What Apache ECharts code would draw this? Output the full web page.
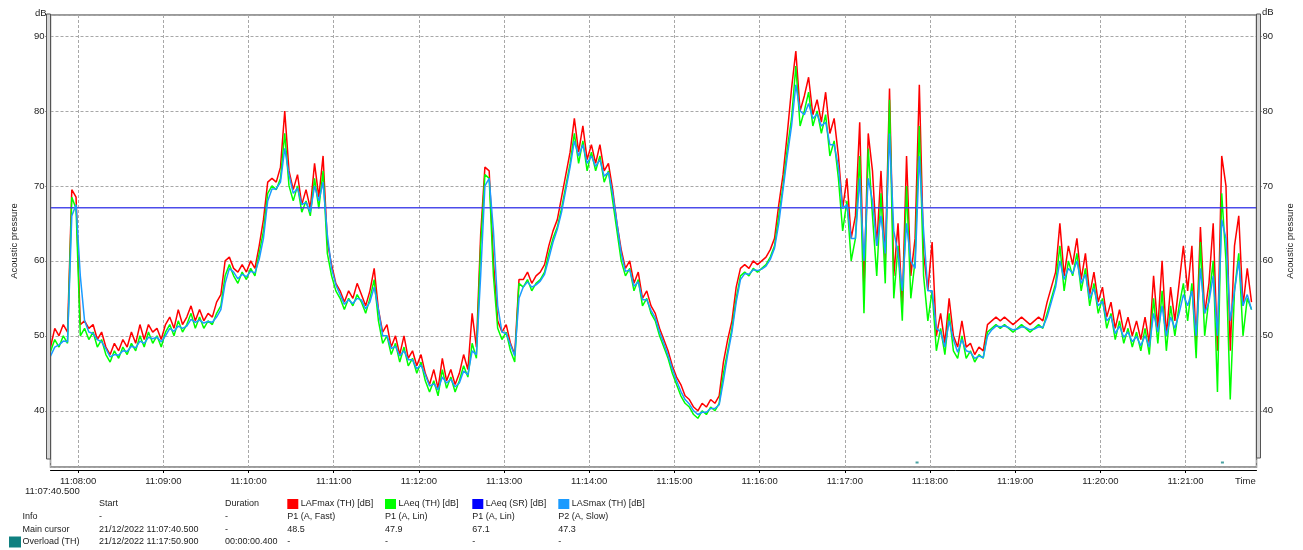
<!DOCTYPE html>
<html><head><meta charset="utf-8">
<script src="https://cdn.jsdelivr.net/npm/echarts@6/dist/echarts.min.js"></script>
<style>html,body{margin:0;padding:0;background:#fff}#c{width:1303px;height:550px}</style>
</head><body><div id="c"></div>
<script>
// ---- time base ----
const startTime = Date.UTC(2022, 11, 21, 11, 7, 40, 500);
const endTime = Date.UTC(2022, 11, 21, 11, 21, 50, 0);
const stepSeconds = 3;

// ---- series values (dB), one value every 3 s from 11:07:40.500 ----
const lafmax = [48.5,51,50,51.5,50.5,69.5,68.5,51.5,52,51,51.5,49.5,50.5,48.5,47.5,49,48,49.5,48.5,50.5,
49,51.5,49.5,51.5,50.5,51,49.5,51.5,52.5,51,53.5,51.5,52.5,54,52,53.5,52,53,52.5,54.5,
55.5,60,60.5,59,58.5,59.5,58.5,60,59,62,65.5,70.5,71,70.5,72.5,80,72,69.5,71.5,67.5,
69.5,67,73,68.5,74,62.5,59.5,57,56,54.5,56,55,57,55.5,54,56,59,53.5,50.5,51.5,
48.5,50,47.5,50,47,48,46,47.5,45,43.5,45.5,43,47,44,45.5,43.5,45,47.5,45.5,53,
48.5,63.5,72.5,72,60,52,50.5,51.5,49,47.5,57.5,57.5,58.5,57,58,58.5,59.5,62,64,65.5,
68.5,71.5,74.5,79,74.5,78,73.5,75.5,73,75.5,72,73,69.5,65,61.5,59,60,57,58.5,55,
56,54,53,51,49.5,48,46,44.5,43.5,42,41.5,40.5,40,41,40.5,41.5,41,42,46.5,49.5,
52,56.5,59,59.5,59,60,59.5,60,60.5,61.5,63,67.5,71.5,77,83,88,80,82,84.5,79.5,
81.5,78.5,82.5,77,79,74,67,71,63,66,78.5,56,77,72,62,72,60,83,58,65,
54,74,58,63,83.5,61,56,62.5,50,53,49,55,50,48.5,52,48.5,49,47.5,48.5,48,
51.5,52,52.5,52,52.5,52,51.5,52,52.5,52,51.5,52,52.5,52,54.5,56.5,58.5,65,58,62,
59.5,63,57.5,61,55.5,58.5,54.5,56.5,52.5,54.5,51,53.5,50.5,52.5,50,52,49.5,52.5,49,58,
51,60,50,56.5,52,57,62,56,62,49,64.5,53,57,65,48,74,70,48,62,66,
54,59,54.5];
const laeq = [47.9,49.5,48.5,50,49,68.5,67,50,51,49.5,50.5,48.5,49.5,47.5,46.5,48,47,48.5,47.5,49,
48,50,48.5,50.5,49,50,48.5,50.5,51.5,50,52,50.5,51.5,53,51,52.5,51,52,51.5,53,
54,58,59.5,58,57,58.5,57.5,59,58,61,64,69,70,69.5,71,77,70,68,70,66.5,
68,66,71,67,72,61,58,56,55,53.5,55,54,55.5,54.5,53,55,57.5,52,49,50,
47.5,49,46.5,48.5,46,47,45,46.5,44,42.5,44,42,45.5,43,44.5,42.5,44,46,44.5,49,
47,62,71.5,71,58,51,49.5,50.5,48,46.5,57,56.5,57.5,56,57,57.5,58.5,61,63,64.5,
67,70,73,77,73,76,72,74.5,72,74,70.5,72,68,64,60,58,59,56,57.5,54,
55,53,52,50,48.5,47,45,43.5,42,41,40.5,39.5,39,40,39.5,40.5,40,41,45,48,
51,55,58,58.5,58,59,58.5,59,59.5,60.5,62,66,70,75,79,86,78,80,82.5,78,
80,77,79.5,74,76,71,64,68,60,63,74,53,75,66,58,69,57,81.5,55,62,
52,70,55,60,78,58,52,56,48,51,47.5,53,48,47,50,47,48,46.5,47.5,47,
50.5,51,51.5,51,51.5,51,50.5,51,51.5,51,50.5,51,51.5,51,53,55,57,62,56,60,
58,61,56,59,54,57,53,55,51,53,49.5,52,49,51,48.5,50.5,48,51,47.5,55,
49,56,48,54,50,54,57,52,57,47,62.5,50,55,60,42.5,69,60,41.5,56,61,
50,55,53.5];
const lasmax = [47.3,48.5,48.8,49.3,49.2,66,67.5,58,52,50.5,50.3,49.5,49.2,48.3,47.2,47.5,47.4,48,47.9,48.6,
48.4,49.3,49,49.8,49.6,49.8,49.2,50,51,50.6,51.3,51,51.3,52.2,51.8,52.1,51.7,51.9,51.8,52.5,
53.5,57,59,58.5,57.6,58.2,57.9,58.6,58.4,60.2,63,68,69.6,69.6,70.5,75,71.5,69,69.7,67.5,
67.8,66.5,70,68,70.5,63.5,59,56.8,55.5,54.2,54.8,54.3,55,54.8,53.6,54.5,56.5,53.5,50,50,
48.3,48.6,47.3,48,46.8,46.8,45.6,46.1,44.8,43.3,43.6,42.8,44.5,43.7,44.2,43.2,43.7,45.3,44.8,48,
47.5,58,70,71,64,54,50.5,50.3,48.8,47.3,55,56.5,57.2,56.5,56.8,57.3,58.2,60.3,62.5,64.2,
66.5,69.5,72.5,76,74,75.5,73,74,72.6,73.5,71.3,71.8,69,65,61,58.6,58.8,56.6,57.2,54.8,
54.8,53.4,52.4,50.5,49,47.4,45.6,44,42.6,41.5,40.9,40,39.5,39.8,39.8,40.3,40.3,40.8,44,47.5,
50.5,54.5,57.5,58.3,58.2,58.8,58.7,58.9,59.3,60.2,61.7,65,69.5,74,78,83.5,80,79.5,81,79,
79.6,78,78.5,75.5,75.5,72.5,67,67.5,63,63,71,60,71,68,62,66,61,77,64,61,
56,65,60,59,74,64,56,56,51,50.5,48.5,52,49.5,47.8,49.5,48,47.8,47,47.3,47.1,
50,50.8,51.3,51.2,51.3,51.1,50.8,50.9,51.2,51.1,50.8,50.9,51.2,51.1,52.5,54.5,56.5,60,57.5,59,
58.3,60,57,58.2,55,56.3,54,54.6,52,52.6,50.3,51.3,49.8,50.5,49.2,49.9,48.7,50,48.5,53,
50.5,54,50,52.5,51,53,55.5,54,56,50,59,53,54.5,58,50,65.5,63,52,56,60,
54,55.5,53.5];
const laeqSR = 67.1;
const overloadTimes = [Date.UTC(2022, 11, 21, 11, 17, 50, 900), Date.UTC(2022, 11, 21, 11, 21, 26, 0)];
const overloadLevel = 33.1;

// ---- axis / table texts ----
const yName = 'Acoustic pressure';
const yUnit = 'dB';
const cursorLabel = '11:07:40.500';
const xName = 'Time';
const headerCols = ['Start', 'Duration'];
const rowLabels = ['Info', 'Main cursor', 'Overload (TH)'];
const startCol = ['-', '21/12/2022 11:07:40.500', '21/12/2022 11:17:50.900'];
const durationCol = ['-', '-', '00:00:00.400'];
const channelNames = ['LAFmax (TH) [dB]', 'LAeq (TH) [dB]', 'LAeq (SR) [dB]', 'LASmax (TH) [dB]'];
const channelInfo = ['P1 (A, Fast)', 'P1 (A, Lin)', 'P1 (A, Lin)', 'P2 (A, Slow)'];
const cursorValues = ['48.5', '47.9', '67.1', '47.3'];
const overloadValues = ['-', '-', '-', '-'];

const colors = ['#ff0000', '#00ff00', '#0000ff', '#1a9bff'];
const FONT = '"Liberation Sans", Arial, sans-serif';

const times = laeq.map((_, i) => startTime + i * stepSeconds * 1000);
const pair = arr => arr.map((v, i) => [times[i], v]);

function fmt(v) {
  const d = new Date(v);
  const p = n => String(n).padStart(2, '0');
  return p(d.getUTCHours()) + ':' + p(d.getUTCMinutes()) + ':' + p(d.getUTCSeconds());
}

const txt = (x, y, text, extra) => Object.assign({
  type: 'text', z: 200, silent: true,
  style: Object.assign({ x, y, text, font: '9px ' + FONT, fill: '#222', verticalAlign: 'middle' }, extra || {})
});

const graphic = [];
// side bars
graphic.push({ type: 'rect', z: 150, shape: { x: 46.5, y: 14, width: 4, height: 445 }, style: { fill: '#d6d6d6', stroke: '#555', lineWidth: 1 } });
graphic.push({ type: 'rect', z: 150, shape: { x: 1256.5, y: 14, width: 4, height: 444 }, style: { fill: '#d6d6d6', stroke: '#555', lineWidth: 1 } });
graphic.push(txt(35, 13, yUnit, { font: '9.5px ' + FONT }));
graphic.push(txt(1262, 12, yUnit, { font: '9.5px ' + FONT }));
graphic.push(txt(1235, 481, xName, { font: '9.5px ' + FONT }));
graphic.push(txt(25, 491.5, cursorLabel, { font: '9.5px ' + FONT }));
// table
const rowY = [516.5, 529.5, 542];
const headY = 503.5;
const colX = [99, 225];
const chX = [287.3, 385, 472.3, 558.3];
graphic.push(txt(colX[0], headY, headerCols[0]));
graphic.push(txt(colX[1], headY, headerCols[1]));
chX.forEach((x, k) => {
  graphic.push({ type: 'rect', z: 200, shape: { x: x, y: 499, width: 11, height: 10 }, style: { fill: colors[k] } });
  graphic.push(txt(x + 13.5, headY, channelNames[k]));
  graphic.push(txt(x, rowY[0], channelInfo[k]));
  graphic.push(txt(x, rowY[1], cursorValues[k]));
  graphic.push(txt(x, rowY[2], overloadValues[k]));
});
rowLabels.forEach((r, k) => {
  graphic.push(txt(22.5, rowY[k], r));
  graphic.push(txt(colX[0], rowY[k], startCol[k]));
  graphic.push(txt(colX[1], rowY[k], durationCol[k]));
});
graphic.push({ type: 'rect', z: 200, shape: { x: 9, y: 536.5, width: 12, height: 11 }, style: { fill: '#0f8080' } });

const gridLine = { show: true, lineStyle: { color: '#a8a8a8', type: [3, 2], width: 1 } };
const yAxisBase = {
  type: 'value', min: 32.5, max: 92.8, splitNumber: 5,
  axisLine: { show: false },
  axisTick: { show: true, length: 5, lineStyle: { color: '#333' } },
  name: yName, nameLocation: 'middle', nameRotate: 90,
  nameTextStyle: { fontFamily: FONT, fontSize: 9.5, color: '#222' },
};

const chart = echarts.init(document.getElementById('c'), null, { renderer: 'canvas' });
chart.setOption({
  animation: false,
  useUTC: true,
  backgroundColor: '#fff',
  grid: { left: 50.5, right: 46.5, top: 15, bottom: 83, show: true, borderColor: '#7a7a7a', borderWidth: 1.5, containLabel: false, outerBoundsMode: 'none' },
  xAxis: {
    type: 'time', min: startTime, max: endTime,
    minInterval: 60000, maxInterval: 60000,
    offset: 3,
    axisLine: { show: true, onZero: false, lineStyle: { color: '#000', width: 1 } },
    axisTick: { show: true, length: 3, lineStyle: { color: '#000' } },
    axisLabel: { show: true, margin: 6, showMinLabel: false, showMaxLabel: false, fontFamily: FONT, fontSize: 9.5, color: '#222', formatter: v => fmt(v), hideOverlap: false },
    splitLine: gridLine,
  },
  yAxis: [
    Object.assign({}, yAxisBase, { position: 'left', nameGap: 31,
      axisLabel: { margin: 6, showMinLabel: false, showMaxLabel: false, fontFamily: FONT, fontSize: 9.5, color: '#222' },
      splitLine: gridLine }),
    Object.assign({}, yAxisBase, { position: 'right', nameGap: 29,
      axisLabel: { margin: 6, showMinLabel: false, showMaxLabel: false, fontFamily: FONT, fontSize: 9.5, color: '#222' },
      splitLine: { show: false } }),
  ],
  series: [
    { name: channelNames[0], type: 'line', data: pair(lafmax), showSymbol: false, symbol: 'none', lineStyle: { color: colors[0], width: 1.5 }, z: 2 },
    { name: channelNames[1], type: 'line', data: pair(laeq), showSymbol: false, symbol: 'none', lineStyle: { color: colors[1], width: 1.5 }, z: 3 },
    { name: channelNames[2], type: 'line', data: [[startTime, laeqSR], [endTime, laeqSR]], showSymbol: false, symbol: 'none', lineStyle: { color: '#3838e8', width: 1.5, opacity: 0.9 }, z: 4 },
    { name: channelNames[3], type: 'line', data: pair(lasmax), showSymbol: false, symbol: 'none', lineStyle: { color: colors[3], width: 1.5 }, z: 5 },
    { name: 'Overload (TH)', type: 'scatter', data: overloadTimes.map(t => [t, overloadLevel]), symbol: 'rect', symbolSize: [3, 2], itemStyle: { color: '#1a8a8a' }, z: 6 },
  ],
  graphic: graphic,
});
</script></body></html>
